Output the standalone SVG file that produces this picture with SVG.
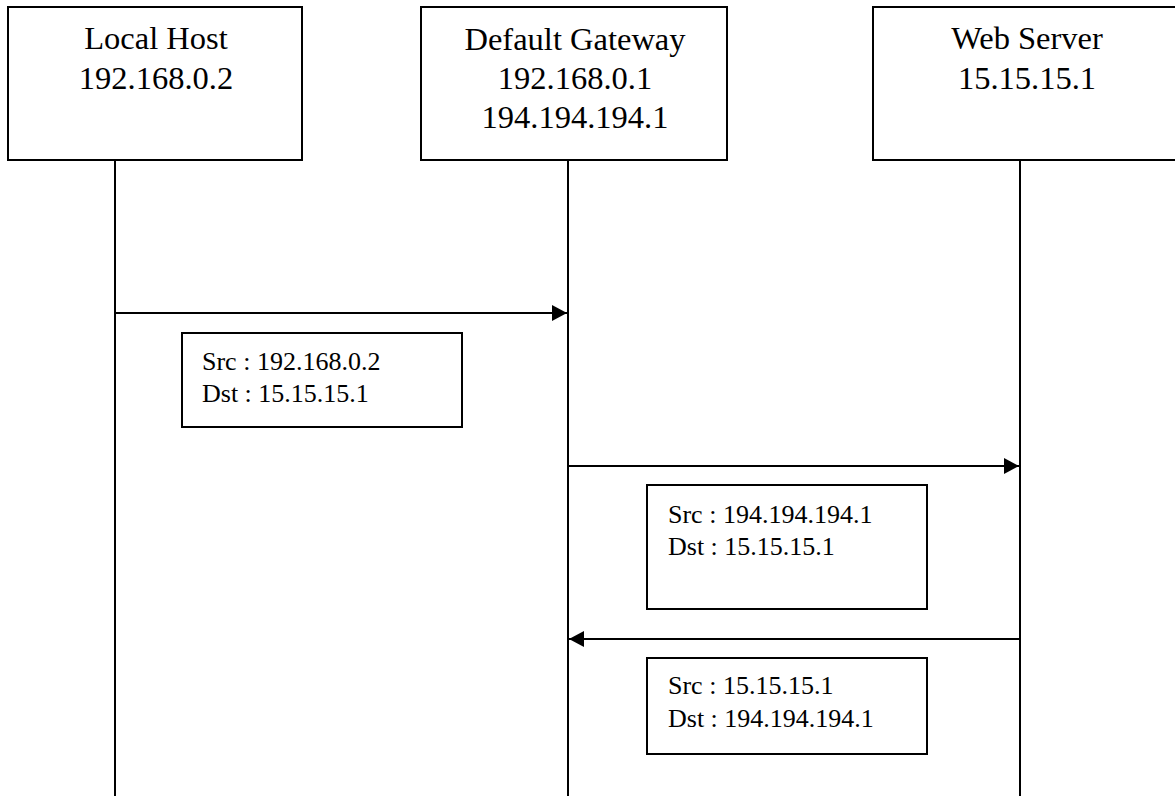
<svg xmlns="http://www.w3.org/2000/svg" width="1175" height="796" viewBox="0 0 1175 796">
<style>
.box{fill:#fff;stroke:#000;stroke-width:2}
.life{stroke:#000;stroke-width:2;fill:none}
.msg{stroke:#000;stroke-width:2;fill:none}
.t{font-family:"Liberation Serif","Times New Roman",serif;font-size:32.5px;fill:#000;text-anchor:middle}
.n{font-family:"Liberation Serif","Times New Roman",serif;font-size:26px;fill:#000}
</style>
<defs>
<marker id="ah" viewBox="0 0 15 16" refX="15" refY="8" markerWidth="15" markerHeight="16" markerUnits="userSpaceOnUse" orient="auto">
<path d="M0,0 L15,8 L0,16 Z" fill="#000"/>
</marker>
</defs>
<rect width="1175" height="796" fill="#fff"/>
<g id="lifelines">
<line class="life" x1="115" y1="160" x2="115" y2="796"/>
<line class="life" x1="568" y1="160" x2="568" y2="796"/>
<line class="life" x1="1020" y1="160" x2="1020" y2="796"/>
</g>
<g id="local-host">
<rect class="box" x="8" y="7" width="294" height="153"/>
<text class="t" x="156" y="49">Local Host</text>
<text class="t" x="156" y="89">192.168.0.2</text>
</g>
<g id="default-gateway">
<rect class="box" x="421" y="7" width="306" height="153"/>
<text class="t" x="575" y="50">Default Gateway</text>
<text class="t" x="575" y="89">192.168.0.1</text>
<text class="t" x="575" y="128">194.194.194.1</text>
</g>
<g id="web-server">
<rect class="box" x="873" y="7" width="310" height="153"/>
<text class="t" x="1027" y="49">Web Server</text>
<text class="t" x="1027" y="89">15.15.15.1</text>
</g>
<g id="connectors">
<line class="msg" x1="115" y1="313" x2="567" y2="313" marker-end="url(#ah)"/>
<line class="msg" x1="568" y1="466" x2="1019" y2="466" marker-end="url(#ah)"/>
<line class="msg" x1="1020" y1="639" x2="569" y2="639" marker-end="url(#ah)"/>
</g>
<g id="packet-1">
<rect class="box" x="182" y="333" width="280" height="94"/>
<text class="n" x="202" y="370">Src : 192.168.0.2</text>
<text class="n" x="202" y="402">Dst : 15.15.15.1</text>
</g>
<g id="packet-2">
<rect class="box" x="647" y="485" width="280" height="124"/>
<text class="n" x="668" y="523">Src : 194.194.194.1</text>
<text class="n" x="668" y="555">Dst : 15.15.15.1</text>
</g>
<g id="packet-3">
<rect class="box" x="647" y="658" width="280" height="96"/>
<text class="n" x="668" y="694">Src : 15.15.15.1</text>
<text class="n" x="668" y="727">Dst : 194.194.194.1</text>
</g>
</svg>
